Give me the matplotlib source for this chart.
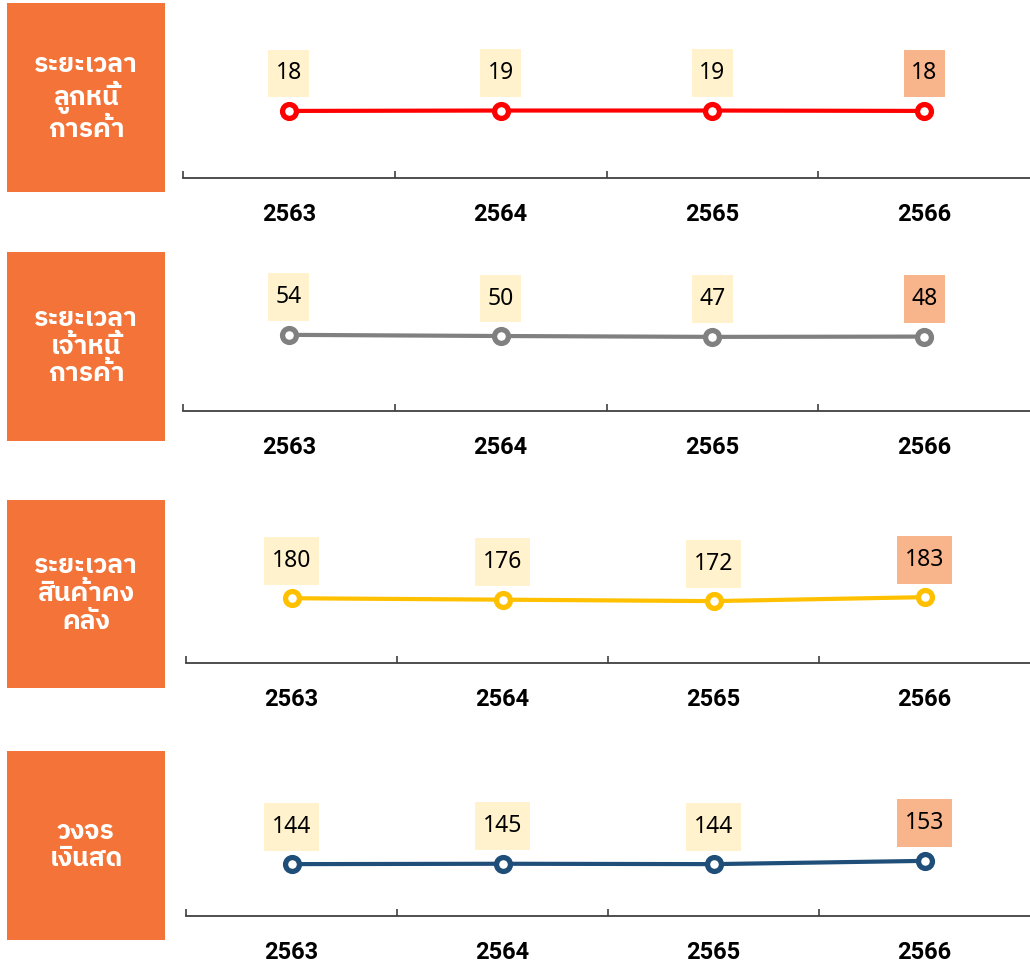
import matplotlib
matplotlib.use("Agg")
import matplotlib.pyplot as plt
from matplotlib import font_manager
from matplotlib.ft2font import FT2Font
from matplotlib.path import Path

years = ["2563", "2564", "2565", "2566"]
receivable_days = [18, 19, 19, 18]
payable_days = [54, 50, 47, 48]
inventory_days = [180, 176, 172, 183]
cash_cycle = [144, 145, 144, 153]

titles = [
    "ระยะเวลา\nลูกหนี้\nการค้า",
    "ระยะเวลา\nเจ้าหนี้\nการค้า",
    "ระยะเวลา\nสินค้าคง\nคลัง",
    "วงจร\nเงินสด",
]
series = [receivable_days, payable_days, inventory_days, cash_cycle]
colors = ["#FF0000", "#808080", "#FFC000", "#1F4E79"]


def thai_font():
    # pick an installed face with Thai glyphs: sans, loopless, bold preferred
    best = None
    for f in font_manager.fontManager.ttflist:
        try:
            if 0x0E01 not in FT2Font(f.fname).get_charmap():
                continue
        except Exception:
            continue
        w = f.weight if isinstance(f.weight, int) else 400
        name = f.name.lower()
        score = 0
        if "sans" in name:
            score += 4
        if "serif" in name:
            score -= 4
        if "looped" in name:
            score -= 2
        if w >= 600:
            score += 1
        if best is None or score > best[0]:
            best = (score, f.name)
    return best[1] if best else "DejaVu Sans"


def label_box(x0, y0, width, height, mutation_size):
    # plain rectangle, more padding top/bottom than left/right
    px = 0.32 * mutation_size
    py = 0.52 * mutation_size
    x0, y0 = x0 - px, y0 - py
    x1, y1 = x0 + width + 2 * px, y0 + height + 2 * py
    return Path([(x0, y0), (x1, y0), (x1, y1), (x0, y1), (x0, y0)], closed=True)


thai = thai_font()
num_font = ["Noto Sans", "DejaVu Sans"]
year_font = ["Roboto", "DejaVu Sans"]

W, H = 1030, 966
fig = plt.figure(figsize=(W / 100, H / 100), dpi=100)

# pixel layout: (box top, box bottom, axes top, axis line, axes left)
rows = [
    (3, 192, 3, 178, 183),
    (252, 441, 252, 411, 183),
    (500, 688, 500, 663, 186),
    (751, 940, 751, 916, 186),
]
ylims = [(-149.5, 287.5), (-208.6, 339.7), (0, 453), (0, 458)]

for i, (bt, bb, at, ab, al) in enumerate(rows):
    # orange title box
    bax = fig.add_axes([7 / W, 1 - bb / H, 158 / W, (bb - bt) / H])
    bax.set_facecolor("#F37338")
    bax.set_xticks([])
    bax.set_yticks([])
    for s in bax.spines.values():
        s.set_visible(False)
    bax.text(0.5, 0.5, titles[i], ha="center", va="center", color="white",
             fontsize=19, fontweight="bold", family=[thai, "DejaVu Sans"],
             linespacing=1.2, transform=bax.transAxes)

    ax = fig.add_axes([al / W, 1 - ab / H, (W - al) / W, (ab - at) / H])
    x = list(range(len(years)))
    vals = series[i]
    ax.plot(x, vals, color=colors[i], lw=3, marker="o", ms=10,
            mfc="white", mec=colors[i], mew=3.8, zorder=3)
    for j, v in enumerate(vals):
        fc = "#F8B58C" if j == len(vals) - 1 else "#FFF2CC"
        t = ax.annotate(str(v), (j, v), xytext=(0, 27), textcoords="offset points",
                        ha="center", va="center", fontsize=16.5, family=num_font,
                        bbox=dict(fc=fc, ec="none"))
        t.get_bbox_patch().set_boxstyle(label_box)
    ax.set_xlim(-0.5, 3.5)
    ax.set_ylim(*ylims[i])
    for s in ["top", "right", "left"]:
        ax.spines[s].set_visible(False)
    ax.spines["bottom"].set_color("#404040")
    ax.spines["bottom"].set_linewidth(1.3)
    ax.set_yticks([])
    ax.set_xticks(x)
    ax.set_xticklabels(years, fontsize=17, fontweight="bold", family=year_font)
    ax.set_xticks([-0.5, 0.5, 1.5, 2.5], minor=True)
    ax.tick_params(axis="x", which="major", length=0, pad=18)
    ax.tick_params(axis="x", which="minor", length=5, width=1.2,
                   direction="in", color="#404040")
    ax.patch.set_alpha(0)

fig.savefig("out.png", dpi=100)
